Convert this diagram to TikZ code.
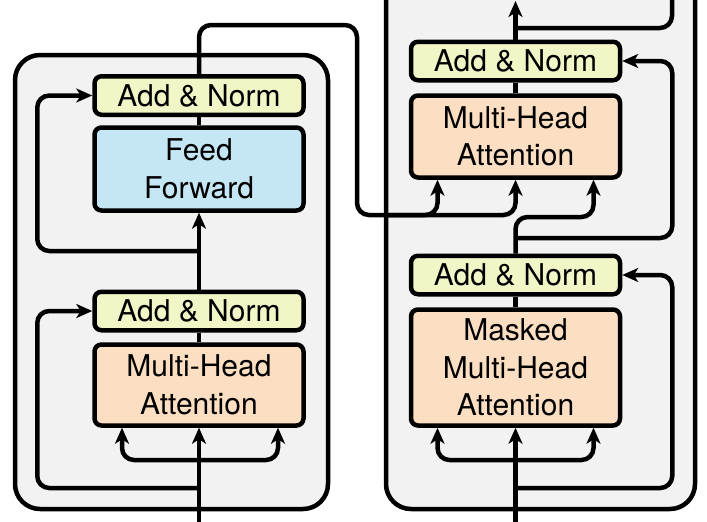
\documentclass[tikz,border=0pt]{standalone}
\usepackage{fontspec}
\setmainfont{TeX Gyre Heros}
\usepackage{xcolor}
\usepackage{tikz}
\usetikzlibrary{calc, arrows.meta, positioning}

\definecolor{anYellow}{HTML}{F2F5C6}
\definecolor{ffBlue}{HTML}{C5E7F5}
\definecolor{mhaOrange}{HTML}{FCDFC2}
\definecolor{stackGray}{HTML}{F2F2F2}

\begin{document}
\begin{tikzpicture}[x=1pt, y=-1pt, >={Stealth[length=16pt, width=14pt, inset=4.5pt]},
    every node/.style={font=\fontsize{30}{37.5}\selectfont},
    stack/.style={draw, line width=4.5pt, fill=stackGray, rounded corners=25pt},
    block/.style={draw, line width=4.5pt, rounded corners=7pt, minimum width=209pt, align=center, inner sep=0pt},
    addnorm/.style={block, fill=anYellow, minimum height=38.5pt},
    attn/.style={block, fill=mhaOrange},
    ffn/.style={block, fill=ffBlue},
    wire/.style={line width=4.5pt, rounded corners=12pt}]
    \useasboundingbox (0,0) rectangle (707,522);
    \clip (0,0) rectangle (707,522);

    % 1. Hai khung nền
    \draw[stack] (15,55) rectangle (328,509);
    \draw[stack] (386,-40) rectangle (695,509);

    % 2. Các khối bên trái (encoder)
    \node[addnorm] (encAN2) at (199,95.5) {Add \& Norm};
    \node[ffn, minimum height=83pt] (encFF) at (199,169) {Feed\\Forward};
    \node[addnorm] (encAN1) at (199,311) {Add \& Norm};
    \node[attn, minimum height=81pt] (encMHA) at (199,385) {Multi-Head\\Attention};

    % 3. Các khối bên phải (decoder)
    \node[addnorm] (decAN2) at (515.5,61) {Add \& Norm};
    \node[attn, minimum height=82pt] (decMHA) at (515.5,136.5) {Multi-Head\\Attention};
    \node[addnorm] (decAN1) at (515.5,275) {Add \& Norm};
    \node[attn, minimum height=116pt] (decMMHA) at (515.5,367.5) {Masked\\Multi-Head\\Attention};

    % 4. Điểm phụ
    \coordinate (encIn) at (199,535);
    \coordinate (encQ) at (199,460);
    \coordinate (encR1) at (199,488);
    \coordinate (encR2) at (199,251);
    \coordinate (encKV) at (357,215);
    \coordinate (decIn) at (515.5,535);
    \coordinate (decQ) at (515.5,460);
    \coordinate (decR1) at (515.5,488);
    \coordinate (decQ2) at (515.5,217);
    \coordinate (decR2) at (515.5,238);
    \coordinate (decR3) at (515.5,28);
    \coordinate (decOut) at (515.5,1);
    \coordinate (decR3end) at (672,-20);

    % 5. Đường nối encoder
    \draw[wire, ->] (encIn) -- (encMHA.south);
    \draw[wire, ->] (encQ) -| ([xshift=-77pt]encMHA.south);
    \draw[wire, ->] (encQ) -| ([xshift=79pt]encMHA.south);
    \draw[wire, ->] (encR1) -| ([xshift=-55pt]encAN1.west) -- (encAN1.west);
    \draw[wire] (encMHA.north) -- (encAN1.south);
    \draw[wire, ->] (encAN1.north) -- (encFF.south);
    \draw[wire, ->] (encR2) -| ([xshift=-55pt]encAN2.west) -- (encAN2.west);
    \draw[wire] (encFF.north) -- (encAN2.south);
    \draw[wire, ->] (encAN2.north) -- (199,25) -- (encKV |- 0,25) -- (encKV) -- (decMHA.south |- encKV) -- (decMHA.south);
    \draw[wire, ->] ([xshift=30pt]encKV) -| ([xshift=-78pt]decMHA.south);

    % 6. Đường nối decoder
    \draw[wire, ->] (decIn) -- (decMMHA.south);
    \draw[wire, ->] (decQ) -| ([xshift=-78pt]decMMHA.south);
    \draw[wire, ->] (decQ) -| ([xshift=78pt]decMMHA.south);
    \draw[wire, ->] (decR1) -| ([xshift=50pt]decAN1.east) -- (decAN1.east);
    \draw[wire] (decMMHA.north) -- (decAN1.south);
    \draw[wire, ->] (decAN1.north) -- (decQ2) -| ([xshift=78pt]decMHA.south);
    \draw[wire, ->] (decR2) -| ([xshift=50pt]decAN2.east) -- (decAN2.east);
    \draw[wire] (decMHA.north) -- (decAN2.south);
    \draw[wire, ->] (decAN2.north) -- (decOut);
    \draw[wire] (decR3) -| (decR3end);
\end{tikzpicture}
\end{document}
